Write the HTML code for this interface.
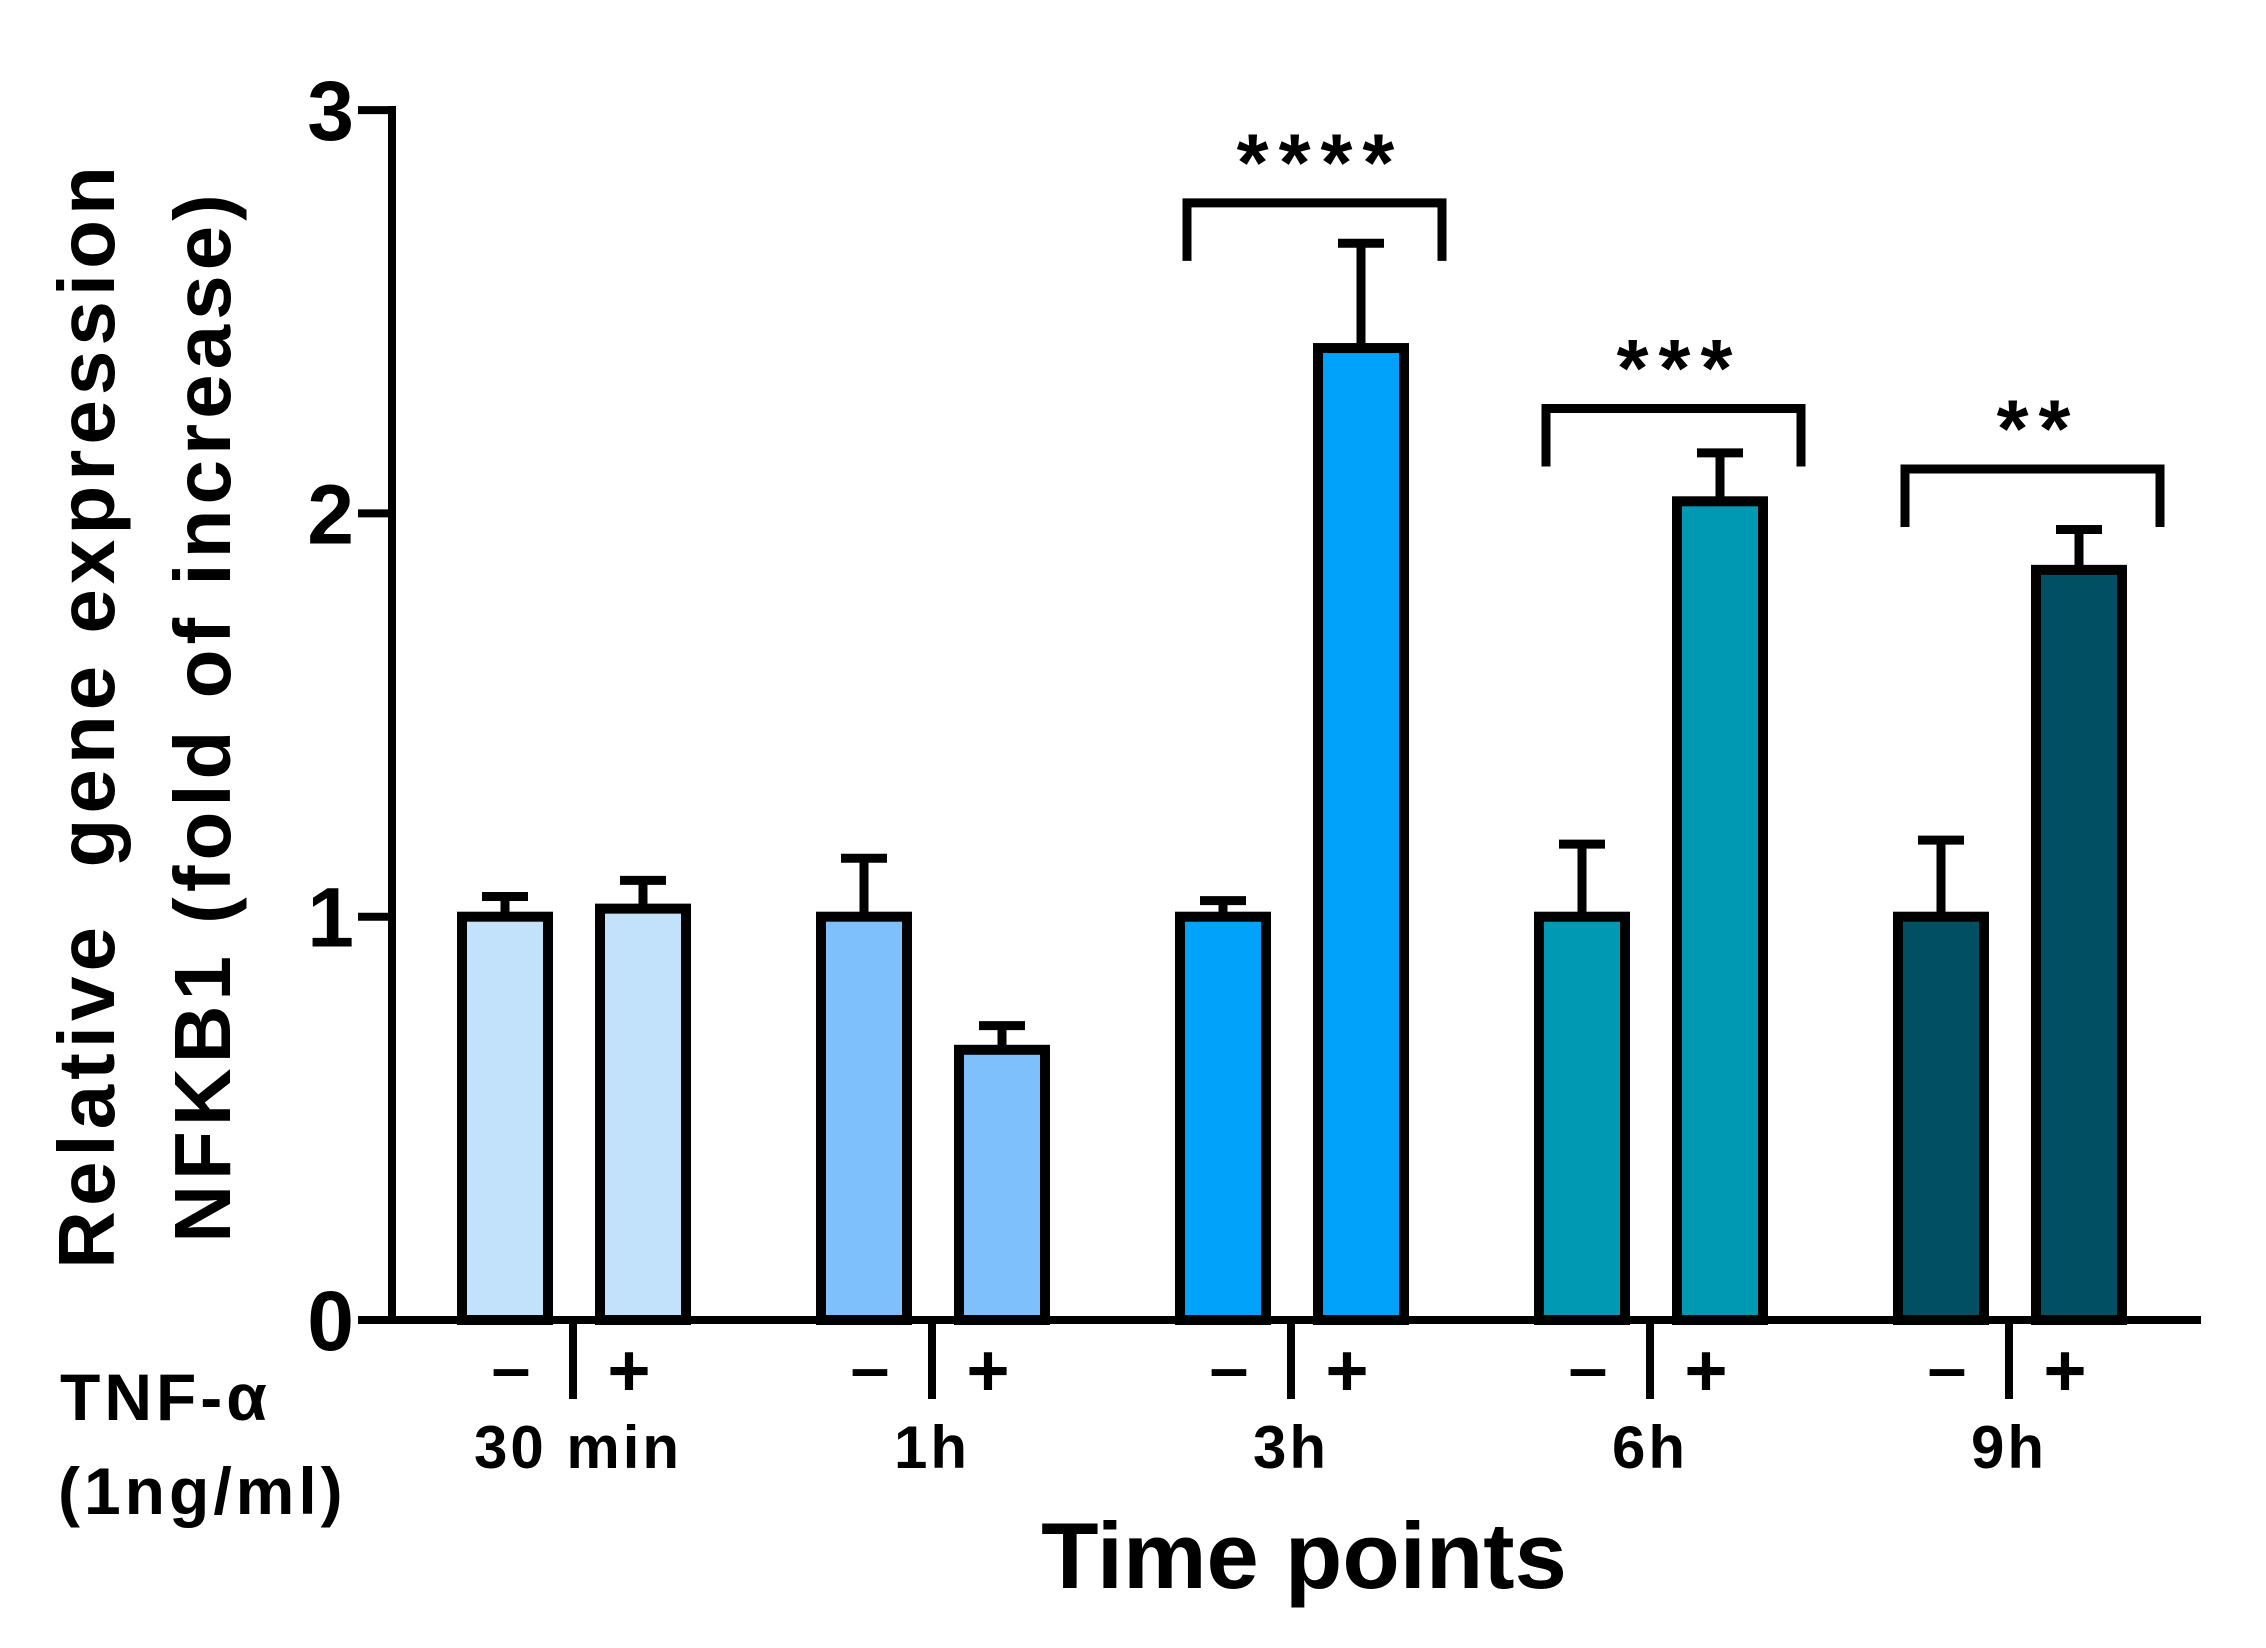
<!DOCTYPE html>
<html><head><meta charset="utf-8"><style>
html,body{margin:0;padding:0;background:#fff;}
svg text{font-family:"Liberation Sans",Arial,sans-serif;font-weight:bold;fill:#000;}
</style></head><body>
<svg id="chart" width="2266" height="1648" viewBox="0 0 2266 1648" xmlns="http://www.w3.org/2000/svg" style="position:absolute;left:0;top:0">
<g id="bars"></g>
<g id="axes"></g>
<g id="labels"></g>
</svg>
<script>
const groups = ["30 min","1h","3h","6h","9h"];
const ctrlValues = [1.0, 1.0, 1.0, 1.0, 1.0];
const ctrlErrors = [0.05, 0.145, 0.04, 0.18, 0.19];
const tnfValues = [1.02, 0.67, 2.41, 2.03, 1.86];
const tnfErrors = [0.07, 0.06, 0.26, 0.12, 0.10];
const yTicks = [0, 1, 2, 3];
const sigLabels = ["", "", "****", "***", "**"];
const sigLevels = [0, 0, 2.77, 2.26, 2.11];
const colors = ["#c2e1fa","#7dc0fb","#00a2fa","#0099b3","#004f63"];

const NS="http://www.w3.org/2000/svg";
const y0=1320, yUnit=403.3;
function yScale(v){return y0 - v*yUnit;}
function groupX(i){return 573 + i*359;}
const barW=86;
function ctrlX(i){return groupX(i)-111;}
function tnfX(i){return groupX(i)+27;}
function mk(tag,attrs,parent){const e=document.createElementNS(NS,tag);for(const k in attrs)e.setAttribute(k,attrs[k]);parent.appendChild(e);return e;}
const barsG=document.getElementById('bars'), axesG=document.getElementById('axes'), labG=document.getElementById('labels');

function drawBar(x,v,err,color,name){
  const top=yScale(v), et=yScale(v+err), cx=x+barW/2;
  const ln=mk('line',{x1:cx,y1:top,x2:cx,y2:et,stroke:'#000','stroke-width':9},barsG);
  
  
  const cap=mk('line',{x1:cx-23,y1:et,x2:cx+23,y2:et,stroke:'#000','stroke-width':9},barsG);
  
  
  const r=mk('rect',{x:x,y:top,width:barW,height:y0-top,fill:color,stroke:'#000','stroke-width':10},barsG);
  
  
}
groups.forEach((g,i)=>{
  drawBar(ctrlX(i),ctrlValues[i],ctrlErrors[i],colors[i],'bar-'+g.replace(' ','')+'-control');
  drawBar(tnfX(i),tnfValues[i],tnfErrors[i],colors[i],'bar-'+g.replace(' ','')+'-tnf');
  const d=mk('line',{x1:groupX(i),y1:y0,x2:groupX(i),y2:1399,stroke:'#000','stroke-width':8},axesG);
  
  
  const m=mk('text',{x:ctrlX(i)+barW/2+6,y:1391,'font-size':70,'text-anchor':'middle'},labG);
  m.textContent='–';
  
  
  const p=mk('text',{x:tnfX(i)+barW/2-14,y:1396,'font-size':74,'text-anchor':'middle'},labG);
  p.textContent='+';
  
  
  const gl=mk('text',{x:groupX(i)+(i==0?5:0),y:1468,'font-size':60,'text-anchor':'middle','letter-spacing':3},labG);
  gl.textContent=g;
  
  
  if(sigLabels[i]){
    const top=yScale(sigLevels[i]), x1=ctrlX(i)+7, x2=tnfX(i)+barW+38;
    const b=mk('path',{d:`M${x1},${top+58} V${top} H${x2} V${top+58}`,fill:'none',stroke:'#000','stroke-width':9},labG);
    
    
    const s=mk('text',{x:(x1+x2)/2+6,y:top-12,'font-size':82,'text-anchor':'middle','font-weight':'normal','letter-spacing':10},labG);
    s.textContent=sigLabels[i];
    
    
  }
});
const ya=mk('line',{x1:392,y1:106,x2:392,y2:1324,stroke:'#000','stroke-width':8},axesG);


const xa=mk('line',{x1:358,y1:y0,x2:2201,y2:y0,stroke:'#000','stroke-width':8},axesG);


yTicks.forEach(t=>{
  const tl=mk('line',{x1:358,y1:yScale(t),x2:392,y2:yScale(t),stroke:'#000','stroke-width':8},axesG);
  
  
  const tx=mk('text',{x:354,y:yScale(t)+30,'font-size':84,'text-anchor':'end'},labG);
  tx.textContent=t;
  
  
});
</script>
<svg style="position:absolute;left:0;top:0" width="2266" height="1648">
<text x="0" y="0" font-size="80" letter-spacing="5" text-anchor="middle" transform="translate(114,715) rotate(-90)" style="white-space:pre">Relative  gene expression</text>
<text x="0" y="0" font-size="80" letter-spacing="5" text-anchor="middle" transform="translate(230,716) rotate(-90)">NFKB1 (fold of increase)</text>
<text x="60" y="1420" font-size="66" letter-spacing="4">TNF-α</text>
<text x="58" y="1514" font-size="66" letter-spacing="4">(1ng/ml)</text>
<text x="1304" y="1588" font-size="94" text-anchor="middle">Time points</text>
</svg>
</body></html>
